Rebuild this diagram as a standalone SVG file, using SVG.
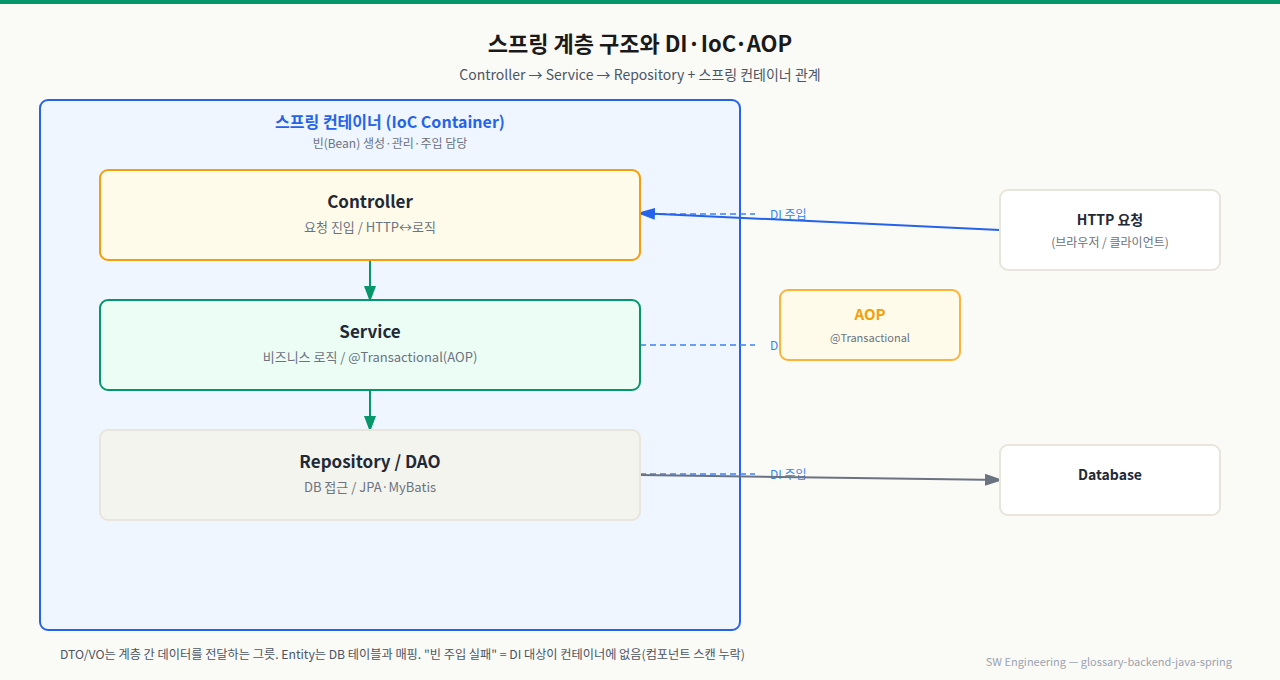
<svg xmlns="http://www.w3.org/2000/svg" width="1280" height="680" viewBox="0 0 1280 680">
<defs>
<style>
text{font-family:"Noto Sans CJK KR","Noto Sans",sans-serif;text-anchor:middle}
.t{font-weight:700;fill:#1f2937}
.s{fill:#6b7280}
.di{fill:#3b82f6;font-size:12px;text-anchor:start}
.dash{stroke:#3b82f6;stroke-width:1.6;stroke-dasharray:6 4;fill:none}
</style>
<marker id="ag" viewBox="0 0 16 12" refX="15" refY="6" markerWidth="16" markerHeight="12" markerUnits="userSpaceOnUse" orient="auto"><path d="M0,0 L16,6 L0,12 z" fill="#059669"/></marker>
<marker id="ab" viewBox="0 0 18 12" refX="17" refY="6" markerWidth="18" markerHeight="12" markerUnits="userSpaceOnUse" orient="auto"><path d="M0,0 L18,6 L0,12 z" fill="#2563eb"/></marker>
<marker id="ay" viewBox="0 0 18 12" refX="17" refY="6" markerWidth="18" markerHeight="12" markerUnits="userSpaceOnUse" orient="auto"><path d="M0,0 L18,6 L0,12 z" fill="#6b7280"/></marker>
</defs>
<rect x="0" y="0" width="1280" height="680" fill="#fafaf7"/>
<rect x="0" y="0" width="1280" height="4" fill="#059669"/>
<text x="640" y="52" class="t" style="font-size:22px;fill:#1a1a1a">스프링 계층 구조와 DI·IoC·AOP</text>
<text x="640" y="80" style="font-size:14px;fill:#4b5563">Controller → Service → Repository + 스프링 컨테이너 관계</text>

<g id="container">
<rect x="40" y="100" width="700" height="530" rx="8" fill="#eff6ff" stroke="#2563eb" stroke-width="2"/>
<text x="390" y="128" style="font-size:16px;font-weight:700;fill:#2563eb">스프링 컨테이너 (IoC Container)</text>
<text x="390" y="148" class="s" style="font-size:12px">빈(Bean) 생성·관리·주입 담당</text>
</g>

<g id="connectors">
<line x1="370" y1="260" x2="370" y2="301" stroke="#059669" stroke-width="2" marker-end="url(#ag)"/>
<line x1="370" y1="390" x2="370" y2="431" stroke="#059669" stroke-width="2" marker-end="url(#ag)"/>
<line x1="640" y1="214" x2="755" y2="214" class="dash"/>
<text x="770" y="219" class="di">DI 주입</text>
<line x1="640" y1="345" x2="755" y2="345" class="dash"/>
<text x="770" y="350" class="di">DI 주입</text>
<line x1="640" y1="474" x2="755" y2="474" class="dash"/>
<text x="770" y="479" class="di">DI 주입</text>
<line x1="1000" y1="230" x2="638" y2="213" stroke="#2563eb" stroke-width="2" marker-end="url(#ab)"/>
<line x1="640" y1="475" x2="1002" y2="480" stroke="#6b7280" stroke-width="2" marker-end="url(#ay)"/>
</g>

<g id="controller">
<rect x="100" y="170" width="540" height="90" rx="8" fill="#fffbea" stroke="#f59e0b" stroke-width="2"/>
<text x="370" y="208" class="t" style="font-size:17px">Controller</text>
<text x="370" y="232" class="s" style="font-size:13px">요청 진입 / HTTP↔로직</text>
</g>
<g id="service">
<rect x="100" y="300" width="540" height="90" rx="8" fill="#ecfdf5" stroke="#059669" stroke-width="2"/>
<text x="370" y="338" class="t" style="font-size:17px">Service</text>
<text x="370" y="362" class="s" style="font-size:13px">비즈니스 로직 / @Transactional(AOP)</text>
</g>
<g id="repository">
<rect x="100" y="430" width="540" height="90" rx="8" fill="#f4f4ee" stroke="#e7e5dc" stroke-width="2"/>
<text x="370" y="468" class="t" style="font-size:17px">Repository / DAO</text>
<text x="370" y="492" class="s" style="font-size:13px">DB 접근 / JPA·MyBatis</text>
</g>
<g id="http">
<rect x="1000" y="190" width="220" height="80" rx="8" fill="#ffffff" stroke="#e7e5dc" stroke-width="2"/>
<text x="1110" y="225" class="t" style="font-size:14px">HTTP 요청</text>
<text x="1110" y="247" class="s" style="font-size:12px">(브라우저 / 클라이언트)</text>
</g>
<g id="aop">
<rect x="780" y="290" width="180" height="70" rx="8" fill="#fffbea" stroke="#fbb33a" stroke-width="2"/>
<text x="870" y="320" style="font-size:15px;font-weight:700;fill:#f59e0b">AOP</text>
<text x="870" y="342" class="s" style="font-size:11px">@Transactional</text>
</g>
<g id="database">
<rect x="1000" y="445" width="220" height="70" rx="8" fill="#ffffff" stroke="#e7e5dc" stroke-width="2"/>
<text x="1110" y="480" class="t" style="font-size:14px">Database</text>
</g>

<text x="60" y="659" style="font-size:12.2px;fill:#4b5563;text-anchor:start">DTO/VO는 계층 간 데이터를 전달하는 그릇. Entity는 DB 테이블과 매핑. "빈 주입 실패" = DI 대상이 컨테이너에 없음(컴포넌트 스캔 누락)</text>
<text x="1232" y="666" style="font-size:11px;fill:#9ca3af;text-anchor:end">SW Engineering — glossary-backend-java-spring</text>
</svg>
